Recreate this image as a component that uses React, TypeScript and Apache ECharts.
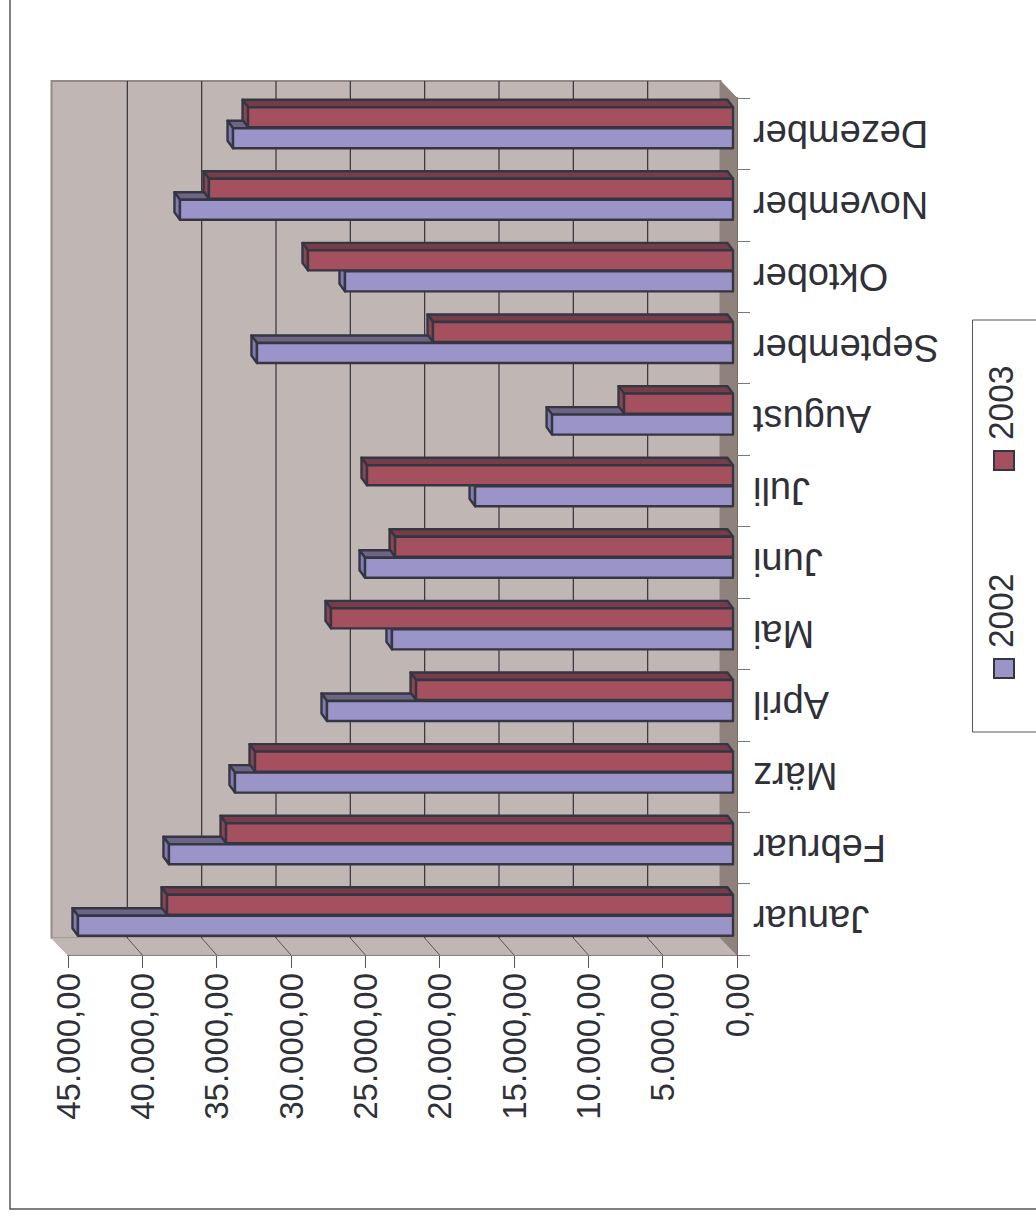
import React, { useEffect, useRef } from "react";
import * as echarts from "echarts";

const months = ["Januar","Februar","März","April","Mai","Juni","Juli","August","September","Oktober","November","Dezember"];
const values2002 = [44060,37940,33500,27310,22940,24750,17350,12170,32020,26100,37200,33630];
const values2003 = [38070,34100,32150,21320,27040,22730,24620,7330,20180,28590,35250,32620];
const gridValues = [5000,10000,15000,20000,25000,30000,35000,40000];
const seriesNames = ["2002","2003"];

const FONT = "Liberation Sans";
const INK = "#2f3038";
const OUT = "#343642";
const WALL = "#c0b6b3";
const SIDE = "#8f817b";
const palette = [
  { front: "#9b94c8", top: "#6e6585", side: "#837cb0" },
  { front: "#a5505f", top: "#773c4a", side: "#8f4454" },
];

const BAR_DX = -4, BAR_DY = -4, BAR_DRIFT = -2, DEPTH_X = -5.5, DEPTH_Y = -7.5, BAR_H = 20;
const WALL_DX = -16.5, GRID_DX = -15, WALL_DY = -17;

function renderBackdrop(_p: any, api: any) {
  const [x0, yBottom] = api.coord([0, 0]);
  const hb = api.size([0, 1])[1] / 2;
  const xMax = api.coord([45000, 0])[0];
  const yB = yBottom + hb;
  const yT = api.coord([0, 11])[1] - hb;
  const poly = (points: number[][], fill: string, stroke?: string, lw = 1) => ({
    type: "polygon",
    shape: { points },
    style: { fill, stroke: stroke || fill, lineWidth: lw },
  });
  const children: any[] = [
    poly([[xMax + WALL_DX, yT + WALL_DY],[x0 + WALL_DX, yT + WALL_DY],[x0 + WALL_DX, yB + WALL_DY],[xMax + WALL_DX, yB + WALL_DY]], WALL, "#978985", 2),
    poly([[xMax + WALL_DX, yB + WALL_DY],[x0 + WALL_DX, yB + WALL_DY],[x0, yB],[xMax, yB]], WALL, "#b8adaa", 1),
    poly([[x0 + WALL_DX, yT + WALL_DY],[x0, yT],[x0, yB],[x0 + WALL_DX, yB + WALL_DY]], SIDE),
  ];
  gridValues.forEach((v) => {
    const x = api.coord([v, 0])[0];
    children.push({ type: "line", shape: { x1: x + GRID_DX, y1: yT + WALL_DY, x2: x + GRID_DX, y2: yB + WALL_DY }, style: { stroke: "#33333a", lineWidth: 1.2 } });
    children.push({ type: "line", shape: { x1: x + GRID_DX, y1: yB + WALL_DY, x2: x, y2: yB }, style: { stroke: "#5a5556", lineWidth: 1 } });
  });
  return { type: "group", children };
}

function makeBar(idx: number) {
  const c = palette[idx];
  return (_p: any, api: any) => {
    const cat = api.value(0);
    const val = api.value(1);
    const [xv, yc] = api.coord([val, cat]);
    const x0 = api.coord([0, cat])[0] + BAR_DX;
    const x1 = xv + BAR_DX;
    const center = yc + BAR_DY + (BAR_DRIFT * cat) / 11;
    const top = idx === 0 ? center + 0.5 : center - 0.5 - BAR_H;
    const bottom = top + BAR_H;
    const style = (fill: string) => ({ fill, stroke: OUT, lineWidth: 2.4, lineJoin: "round" });
    return {
      type: "group",
      children: [
        { type: "polygon", shape: { points: [[x1, top],[x0, top],[x0 + DEPTH_X, top + DEPTH_Y],[x1 + DEPTH_X, top + DEPTH_Y]] }, style: style(c.top) },
        { type: "polygon", shape: { points: [[x1, top],[x1, bottom],[x1 + DEPTH_X, bottom + DEPTH_Y],[x1 + DEPTH_X, top + DEPTH_Y]] }, style: style(c.side) },
        { type: "polygon", shape: { points: [[x1, top],[x0, top],[x0, bottom],[x1, bottom]] }, style: style(c.front) },
      ],
    };
  };
}

export default function App() {
  const ref = useRef<HTMLDivElement>(null);
  useEffect(() => {
    const chart = echarts.init(ref.current!, undefined, { renderer: "svg" });
    const legendItems = (name: string, y: number, i: number) => [
      { type: "rect", shape: { x: 994, y, width: 20, height: 19 }, style: { fill: palette[i].front, stroke: OUT, lineWidth: 2 }, z: 5 },
      { type: "text", x: 1019, y: y - 11, rotation: Math.PI / 2, scaleX: 0.93, style: { text: name, fontFamily: FONT, fontSize: 36, fill: INK, textAlign: "left", textVerticalAlign: "bottom" }, z: 5 },
    ];
    chart.setOption({
      animation: false,
      backgroundColor: "#ffffff",
      grid: { left: 68, right: 299, top: 98, bottom: 263, containLabel: false },
      xAxis: {
        type: "value",
        inverse: true,
        min: 0,
        max: 45000,
        interval: 5000,
        axisLine: { show: true, onZero: false, lineStyle: { color: "#5a5556", width: 2 } },
        axisTick: { show: true, length: 13, lineStyle: { color: "#55555a", width: 1 } },
        splitLine: { show: false },
        axisLabel: {
          rotate: 90,
          margin: 18,
          fontFamily: FONT,
          fontSize: 33,
          color: INK,
          showMinLabel: true,
          showMaxLabel: true,
          hideOverlap: false,
          formatter: (v: number) => v.toLocaleString("de-DE", { minimumFractionDigits: 2, maximumFractionDigits: 2 }),
        },
      },
      yAxis: {
        type: "category",
        data: months,
        position: "right",
        axisLine: { show: true, onZero: false, lineStyle: { color: "#5a5556", width: 2 } },
        axisTick: { show: true, length: 13, lineStyle: { color: "#77777a", width: 1 } },
        axisLabel: { rotate: 180, align: "right", margin: 16, fontFamily: FONT, fontSize: 38, color: INK, interval: 0, hideOverlap: false },
      },
      graphic: [
        { type: "rect", shape: { x: 10, y: -5, width: 1040, height: 1214 }, style: { fill: "none", stroke: "#555558", lineWidth: 1.5 }, z: 4 },
        { type: "rect", shape: { x: 972.5, y: 320, width: 80, height: 412 }, style: { fill: "#fff", stroke: "#555", lineWidth: 1 }, z: 4 },
        ...legendItems(seriesNames[1], 451, 1),
        ...legendItems(seriesNames[0], 659, 0),
      ],
      series: [
        { type: "custom", name: "backdrop", silent: true, clip: false, z: 1, renderItem: renderBackdrop, data: [[0, 0]], encode: { x: 0, y: 1 } },
        { type: "custom", name: seriesNames[0], clip: false, z: 2, renderItem: makeBar(0), encode: { x: 1, y: 0 }, data: values2002.map((v, i) => [i, v]) },
        { type: "custom", name: seriesNames[1], clip: false, z: 3, renderItem: makeBar(1), encode: { x: 1, y: 0 }, data: values2003.map((v, i) => [i, v]) },
      ],
    });
    return () => chart.dispose();
  }, []);
  return <div ref={ref} style={{ position: "absolute", left: 0, top: 0, width: 1036, height: 1218 }} />;
}
